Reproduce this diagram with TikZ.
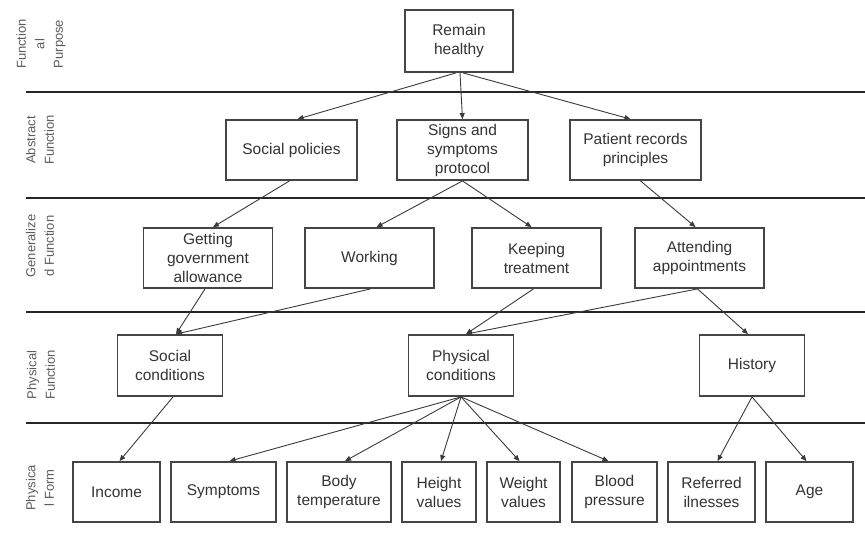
\documentclass[tikz,border=0pt]{standalone}
\usepackage{fontspec}
\setmainfont{Liberation Sans}
\usetikzlibrary{arrows.meta}
\definecolor{boxgray}{HTML}{454545}
\definecolor{textgray}{HTML}{333333}
\definecolor{linkgray}{HTML}{3A3A3A}
\begin{document}
\begin{tikzpicture}[x=1pt,y=-1pt,
  box/.style={draw=boxgray, line width=1.8pt, fill=white, text=textgray,
    align=center, inner sep=0pt, font=\fontsize{15.5}{19}\selectfont},
  link/.style={draw=linkgray, line width=0.9pt,
    -{Triangle[length=6pt,width=5pt]}},
  sep/.style={line width=2.6pt, draw=black!85},
  lvl/.style={rotate=90, align=center, text=textgray!80, inner sep=0pt,
    font=\fontsize{13}{18.5}\selectfont}]
\useasboundingbox (0,0) rectangle (865,544);

% level separators
\draw[sep] (26,92)  -- (865,92);
\draw[sep] (26,198) -- (865,198);
\draw[sep] (26,312) -- (865,312);
\draw[sep] (26,423) -- (865,423);

% level names
\node[lvl] (l1) at (41,44)  {Function\\al\\Purpose};
\node[lvl] (l2) at (40,140) {Abstract\\Function};
\node[lvl] (l3) at (40,246) {Generalize\\d Function};
\node[lvl] (l4) at (41,375) {Physical\\Function};
\node[lvl] (l5) at (40,488) {Physica\\l Form};

% functional purpose
\node[box, minimum width=108pt, minimum height=62pt] (rh) at (459,41) {Remain\\healthy};

% abstract function
\node[box, minimum width=131pt, minimum height=60pt] (sp) at (291.5,150) {Social policies};
\node[box, minimum width=131pt, minimum height=60pt] (ss) at (462.5,150) {Signs and\\symptoms\\protocol};
\node[box, minimum width=131pt, minimum height=60pt] (pr) at (635.5,150) {Patient records\\principles};

% generalized function
\node[box, minimum width=129pt, minimum height=60pt] (ga) at (208,258) {Getting\\government\\allowance};
\node[box, minimum width=129pt, minimum height=60pt] (wk) at (369.5,258) {Working};
\node[box, minimum width=129pt, minimum height=60pt] (kt) at (536.5,258) {Keeping\\treatment};
\node[box, minimum width=129pt, minimum height=60pt] (aa) at (699.5,258) {Attending\\appointments};

% physical function
\node[box, minimum width=105pt, minimum height=61pt] (sc) at (170,365.5) {Social\\conditions};
\node[box, minimum width=105pt, minimum height=61pt] (pc) at (461,365.5) {Physical\\conditions};
\node[box, minimum width=105pt, minimum height=61pt] (hi) at (752,365.5) {History};

% physical form
\node[box, minimum width=87pt,  minimum height=60pt] (inc) at (116.5,492) {Income};
\node[box, minimum width=105pt, minimum height=60pt] (sym) at (223.5,492) {Symptoms};
\node[box, minimum width=104pt, minimum height=60pt] (bt)  at (339,492)   {Body\\temperature};
\node[box, minimum width=74pt,  minimum height=60pt] (hv)  at (439,492)   {Height\\values};
\node[box, minimum width=73pt,  minimum height=60pt] (wv)  at (523.5,492) {Weight\\values};
\node[box, minimum width=85pt,  minimum height=60pt] (bp)  at (614.5,492) {Blood\\pressure};
\node[box, minimum width=87pt,  minimum height=60pt] (ri)  at (711.5,492) {Referred\\ilnesses};
\node[box, minimum width=87pt,  minimum height=60pt] (age) at (809.5,492) {Age};

% means-end links
\draw[link] ([xshift=-3pt]rh.south) -- ([xshift=6pt]sp.north);
\draw[link] ([xshift=1pt]rh.south)  -- (ss.north);
\draw[link] ([xshift=4pt]rh.south)  -- ([xshift=-5pt]pr.north);

\draw[link] ([xshift=-2pt]sp.south) -- ([xshift=5pt]ga.north);
\draw[link] (ss.south) -- ([xshift=7pt]wk.north);
\draw[link] (ss.south) -- ([xshift=-5pt]kt.north);
\draw[link] ([xshift=5pt]pr.south) -- ([xshift=-4pt]aa.north);

\draw[link] ([xshift=-3pt]ga.south) -- ([xshift=6pt]sc.north);
\draw[link] ([xshift=1pt]wk.south)  -- ([xshift=6pt]sc.north);
\draw[link] ([xshift=-3pt]kt.south) -- ([xshift=5pt]pc.north);
\draw[link] ([xshift=-2pt]aa.south) -- ([xshift=5pt]pc.north);
\draw[link] ([xshift=-2pt]aa.south) -- ([xshift=-4pt]hi.north);

\draw[link] ([xshift=3pt]sc.south) -- ([xshift=3pt]inc.north);
\draw[link] (pc.south) -- ([xshift=6pt]sym.north);
\draw[link] (pc.south) -- ([xshift=6pt]bt.north);
\draw[link] (pc.south) -- ([xshift=2pt]hv.north);
\draw[link] (pc.south) -- ([xshift=-4pt]wv.north);
\draw[link] (pc.south) -- ([xshift=-6pt]bp.north);
\draw[link] (hi.south) -- ([xshift=6pt]ri.north);
\draw[link] (hi.south) -- ([xshift=-3pt]age.north);
\end{tikzpicture}
\end{document}
